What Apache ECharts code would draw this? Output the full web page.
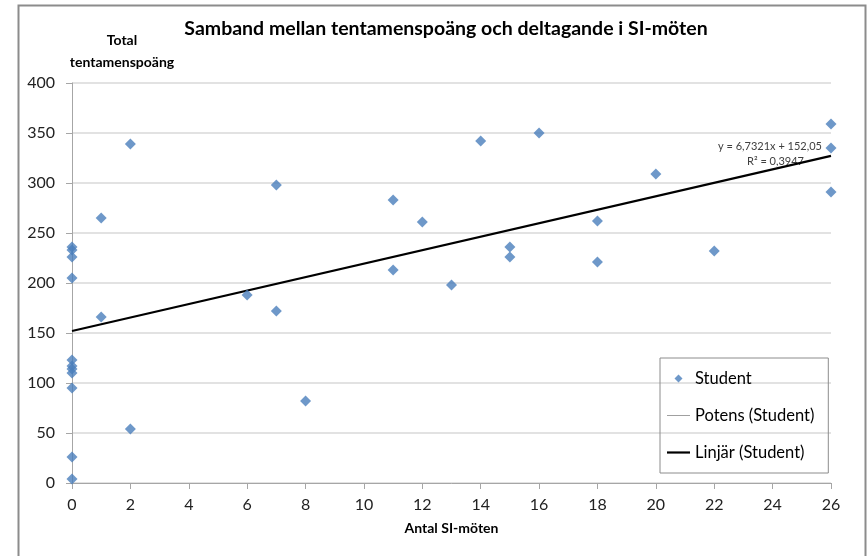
<!DOCTYPE html>
<html>
<head>
<meta charset="utf-8">
<script src="https://cdn.jsdelivr.net/npm/echarts@6/dist/echarts.min.js"></script>
<style>
html,body{margin:0;padding:0;background:#fff;}
#chart{width:867px;height:556px;}
</style>
</head>
<body>
<div id="chart"></div>
<script>
// Data
const meetings = [0,0,0,0,0,0,0,0,0,0,0, 1,1, 2,2, 6, 7,7, 8, 11,11, 12, 13, 14, 15,15, 16, 18,18, 20, 22, 26,26,26];
const scores   = [236,233,226,205,123,117,114,110,95,26,4, 265,166, 339,54, 188, 298,172, 82, 283,213, 261, 198, 342, 236,226, 350, 262,221, 309, 232, 359,335,291];
const xTicks = [0,2,4,6,8,10,12,14,16,18,20,22,24,26];
const yTicks = [0,50,100,150,200,250,300,350,400];
// Linear trendline as printed on the chart
const trendSlope = 6.7321;
const trendIntercept = 152.05;
const trendLabel = ['y = 6,7321x + 152,05', 'R² = 0,3947'];

const FONT = 'Lato';
const points = meetings.map((m, i) => [m, scores[i]]);
const xMin = xTicks[0], xMax = xTicks[xTicks.length - 1];
const trendData = [[xMin, trendIntercept + trendSlope * xMin], [xMax, trendIntercept + trendSlope * xMax]];

const chart = echarts.init(document.getElementById('chart'));
chart.setOption({
  backgroundColor: '#fff',
  animation: false,
  title: [
    {
      text: 'Samband mellan tentamenspoäng och deltagande i SI-möten',
      left: 441, top: 14, textAlign: 'center',
      textStyle: {fontFamily: FONT, fontSize: 19.5, fontWeight: 'bold', color: '#000'}
    },
    {
      text: 'Total\ntentamenspoäng',
      left: 117, top: 24, textAlign: 'center',
      textStyle: {fontFamily: FONT, fontSize: 14, fontWeight: 'bold', color: '#000', lineHeight: 22}
    }
  ],
  grid: {left: 72, right: 36, top: 83, bottom: 73, containLabel: false},
  xAxis: {
    type: 'value', min: xMin, max: xMax, interval: 2,
    name: 'Antal SI-möten', nameLocation: 'middle', nameGap: 38,
    nameTextStyle: {fontFamily: FONT, fontSize: 14, fontWeight: 'bold', color: '#000'},
    axisLine: {show: true, lineStyle: {color: '#a6a6a6', width: 1}},
    axisTick: {show: true, length: 6, lineStyle: {color: '#a6a6a6'}},
    axisLabel: {fontFamily: FONT, fontSize: 16, color: '#222', margin: 14},
    splitLine: {show: false}
  },
  yAxis: {
    type: 'value', min: yTicks[0], max: yTicks[yTicks.length - 1], interval: 50,
    axisLine: {show: true, lineStyle: {color: '#a6a6a6', width: 1}},
    axisTick: {show: true, length: 6, lineStyle: {color: '#a6a6a6'}},
    axisLabel: {fontFamily: FONT, fontSize: 16, color: '#222', margin: 17},
    splitLine: {show: true, lineStyle: {color: '#d9d9d9', width: 1.5}}
  },
  legend: {
    orient: 'vertical', left: 660, top: 358,
    borderColor: '#8c8c8c', borderWidth: 1,
    padding: [12, 14, 12, 7],
    itemWidth: 23, itemHeight: 9, itemGap: 20,
    textStyle: {fontFamily: FONT, fontSize: 16.5, color: '#000'},
    data: [
      {name: 'Student', icon: 'path://M0,0M23,9M11.5,0.5L15.5,4.5L11.5,8.5L7.5,4.5Z'},
      {name: 'Potens (Student)', icon: 'path://M0,0H23V1H0Z'},
      {name: 'Linjär (Student)', icon: 'path://M0,0H23V2.2H0Z'}
    ]
  },
  graphic: [
    {type: 'text', right: 45, top: 141, style: {text: trendLabel[0], fontFamily: FONT, fontSize: 11, fill: '#404040'}},
    {type: 'text', left: 747, top: 156, style: {text: trendLabel[1], fontFamily: FONT, fontSize: 11, fill: '#404040'}},
    {type: 'rect', left: 16, top: 3, shape: {width: 847, height: 560}, style: {fill: 'none', stroke: '#8c8c8c', lineWidth: 2}, silent: true}
  ],
  series: [
    {
      name: 'Student', type: 'scatter', data: points,
      symbol: 'diamond', symbolSize: [11, 11],
      itemStyle: {color: '#4a7ebb'}, z: 3
    },
    {
      name: 'Potens (Student)', type: 'line', data: [],
      symbol: 'none', lineStyle: {color: '#a0a0a0', width: 1}, itemStyle: {color: '#a0a0a0'}
    },
    {
      name: 'Linjär (Student)', type: 'line', data: trendData,
      symbol: 'none', lineStyle: {color: '#000', width: 2.2}, itemStyle: {color: '#000'}, z: 2
    }
  ]
});
</script>
</body>
</html>
